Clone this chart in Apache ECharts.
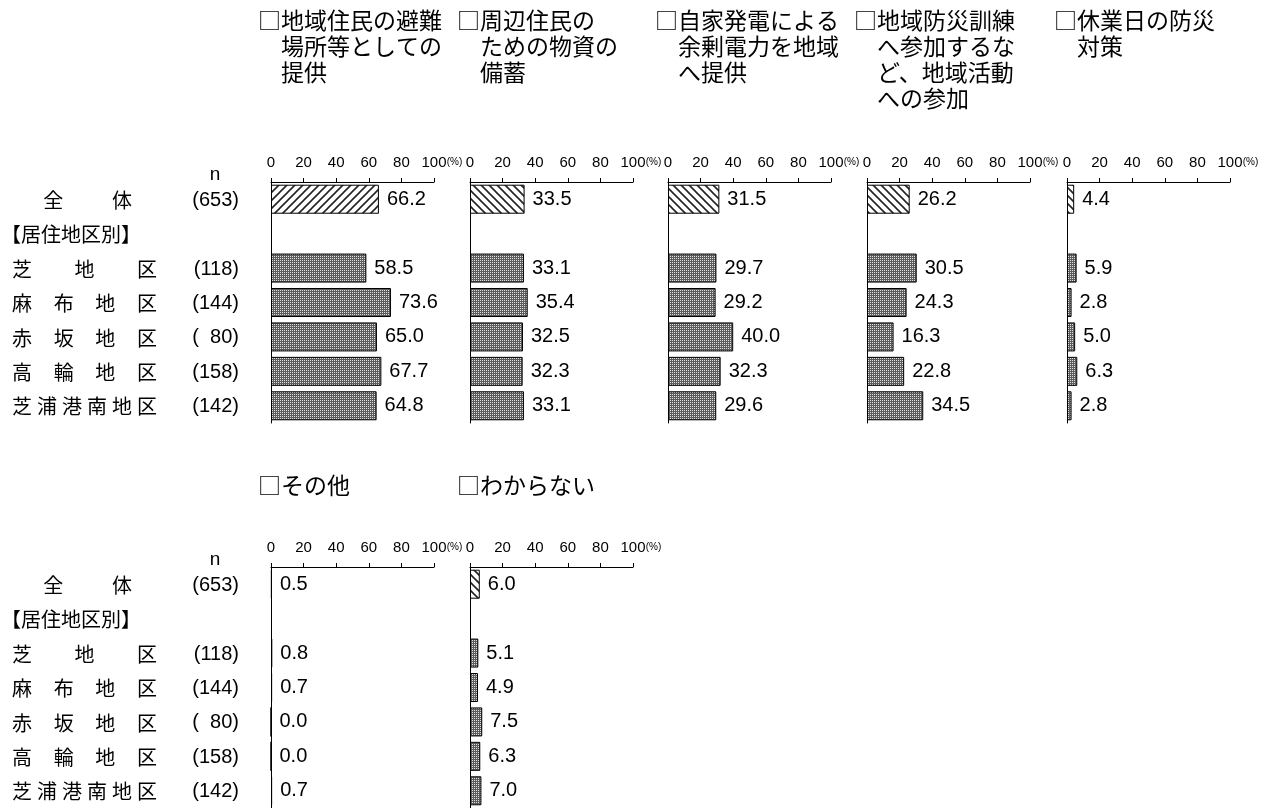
<!DOCTYPE html>
<html><head><meta charset="utf-8">
<script src="https://cdn.jsdelivr.net/npm/echarts@6/dist/echarts.min.js"></script>
<style>html,body{margin:0;padding:0;background:#fff}#c{width:1271px;height:808px}</style>
</head><body><div id="c"></div>
<script>
// ---------- data ----------
const categories = ['全体', '【居住地区別】', '芝地区', '麻布地区', '赤坂地区', '高輪地区', '芝浦港南地区'];
const sampleSizes = [653, null, 118, 144, 80, 158, 142];
const tickLabels = ['0', '20', '40', '60', '80', '100'];

const titleShelter = '□地域住民の避難\n　場所等としての\n　提供';
const titleStock = '□周辺住民の\n　ための物資の\n　備蓄';
const titlePower = '□自家発電による\n　余剰電力を地域\n　へ提供';
const titleDrill = '□地域防災訓練\n　へ参加するな\n　ど、地域活動\n　への参加';
const titleHoliday = '□休業日の防災\n　対策';
const titleOther = '□その他';
const titleUnknown = '□わからない';

const valShelter = [66.2, null, 58.5, 73.6, 65.0, 67.7, 64.8];
const valStock = [33.5, null, 33.1, 35.4, 32.5, 32.3, 33.1];
const valPower = [31.5, null, 29.7, 29.2, 40.0, 32.3, 29.6];
const valDrill = [26.2, null, 30.5, 24.3, 16.3, 22.8, 34.5];
const valHoliday = [4.4, null, 5.9, 2.8, 5.0, 6.3, 2.8];
const valOther = [0.5, null, 0.8, 0.7, 0.0, 0.0, 0.7];
const valUnknown = [6.0, null, 5.1, 4.9, 7.5, 6.3, 7.0];

// ---------- patterns ----------
function hatch(dir) {
  const s = 8, c = document.createElement('canvas');
  c.width = s; c.height = s;
  const g = c.getContext('2d');
  g.fillStyle = '#fff'; g.fillRect(0, 0, s, s);
  g.strokeStyle = '#222'; g.lineWidth = 1.6;
  const segs = dir > 0
    ? [[0, s, s, 0], [-2, 2, 2, -2], [s - 2, s + 2, s + 2, s - 2]]
    : [[0, 0, s, s], [-2, s - 2, 2, s + 2], [s - 2, -2, s + 2, 2]];
  segs.forEach(a => { g.beginPath(); g.moveTo(a[0], a[1]); g.lineTo(a[2], a[3]); g.stroke(); });
  return { image: c, repeat: 'repeat' };
}
function dots() {
  const c = document.createElement('canvas');
  c.width = 2; c.height = 2;
  const g = c.getContext('2d');
  g.fillStyle = '#5c5c5c'; g.fillRect(0, 0, 2, 2);
  g.fillStyle = '#e0e0e0'; g.fillRect(0, 0, 1, 1);
  return { image: c, repeat: 'repeat' };
}
const patFwd = hatch(1), patBack = hatch(-1), patDots = dots();

// ---------- layout ----------
const FONT = "'Liberation Sans', Arial, 'Noto Sans CJK JP', sans-serif";
const PW = 163;
const topBlock = { top: 182, height: 241, titleTop: 7 };
const botBlock = { top: 567, height: 241, titleTop: 472 };
const panels = [
  { title: titleShelter, vals: valShelter, x: 271, block: topBlock, first: patFwd },
  { title: titleStock, vals: valStock, x: 470, block: topBlock, first: patBack },
  { title: titlePower, vals: valPower, x: 668, block: topBlock, first: patBack },
  { title: titleDrill, vals: valDrill, x: 867, block: topBlock, first: patBack },
  { title: titleHoliday, vals: valHoliday, x: 1067, block: topBlock, first: patBack },
  { title: titleOther, vals: valOther, x: 271, block: botBlock, first: patBack },
  { title: titleUnknown, vals: valUnknown, x: 470, block: botBlock, first: patBack }
];

const grids = [], xAxes = [], yAxes = [], series = [];
panels.forEach((p, i) => {
  grids.push({ left: p.x, width: PW, top: p.block.top, height: p.block.height, containLabel: false });
  xAxes.push({
    gridIndex: i, type: 'value', position: 'top', min: 0, max: 100, interval: 20,
    axisLine: { show: true, lineStyle: { color: '#000', width: 1 } },
    axisTick: { show: true, inside: false, length: 4, lineStyle: { color: '#000' } },
    splitLine: { show: false },
    axisLabel: {
      margin: 12, color: '#000', fontSize: 15, fontFamily: FONT,
      formatter: v => {
        const t = tickLabels[Math.round(v / 20)];
        return v === 100 ? '{s| }{n|' + t + '}{p|(%)}' : t;
      },
      rich: {
        s: { width: 16, fontSize: 15 },
        n: { fontSize: 15, fontFamily: FONT, color: '#000' },
        p: { fontSize: 10, fontFamily: FONT, color: '#000', width: 16 }
      }
    }
  });
  yAxes.push({
    gridIndex: i, type: 'category', inverse: true, data: categories,
    axisLine: { show: true, lineStyle: { color: '#000', width: 1 } },
    axisTick: { show: false }, axisLabel: { show: false }
  });
  series.push({
    type: 'bar', xAxisIndex: i, yAxisIndex: i, barWidth: 29,
    data: p.vals.map((v, k) => v == null ? '-' : {
      value: v,
      itemStyle: { color: k === 0 ? p.first : patDots, borderColor: '#000', borderWidth: 1 }
    }),
    label: {
      show: true, position: 'right', distance: 8, color: '#000', fontSize: 20, fontFamily: FONT,
      formatter: q => (typeof q.value === 'number') ? q.value.toFixed(1) : ''
    },
    animation: false
  });
});

const chart = echarts.init(document.getElementById('c'), null, { renderer: 'canvas' });
chart.setOption({ backgroundColor: '#fff', animation: false, grid: grids, xAxis: xAxes, yAxis: yAxes, series: series });

// ---------- text graphics ----------
const CJK = "'Noto Sans CJK JP', sans-serif";
const gfx = [];
panels.forEach(p => {
  gfx.push({
    type: 'text', left: p.x - 13, top: p.block.titleTop,
    style: { text: p.title, fontSize: 23, fontFamily: CJK, lineHeight: 26, fill: '#000' }
  });
});
const PITCH = 25;
[{ grid: 0 }, { grid: 5 }].forEach(b => {
  const yFirst = chart.convertToPixel({ yAxisIndex: b.grid }, categories[0]);
  gfx.push({ type: 'text', x: 215, y: yFirst - 24, style: { text: 'n', fontSize: 19, fontFamily: FONT, fill: '#000', align: 'center', verticalAlign: 'middle' } });
  categories.forEach((cat, k) => {
    const y = chart.convertToPixel({ yAxisIndex: b.grid }, cat) + 1;
    const chars = Array.from(cat);
    if (cat.startsWith('【')) {
      gfx.push({ type: 'text', x: 1, y: y, style: { text: cat, fontSize: 20, fontFamily: CJK, fill: '#000', verticalAlign: 'middle' } });
    } else {
      const slots = chars.length === 2 ? [1.25, 4] : chars.map((c, j) => j * 5 / (chars.length - 1));
      chars.forEach((ch, j) => {
        gfx.push({ type: 'text', x: 22 + slots[j] * PITCH, y: y, style: { text: ch, fontSize: 20, fontFamily: CJK, fill: '#000', align: 'center', verticalAlign: 'middle' } });
      });
    }
    if (sampleSizes[k] != null) {
      const n = sampleSizes[k];
      const s = '(' + (n < 100 ? '\u2007' : '') + n + ')';
      gfx.push({ type: 'text', x: 239, y: y, style: { text: s, fontSize: 20, fontFamily: FONT, fill: '#000', align: 'right', verticalAlign: 'middle' } });
    }
  });
});
chart.setOption({ graphic: gfx });
</script>
</body></html>
